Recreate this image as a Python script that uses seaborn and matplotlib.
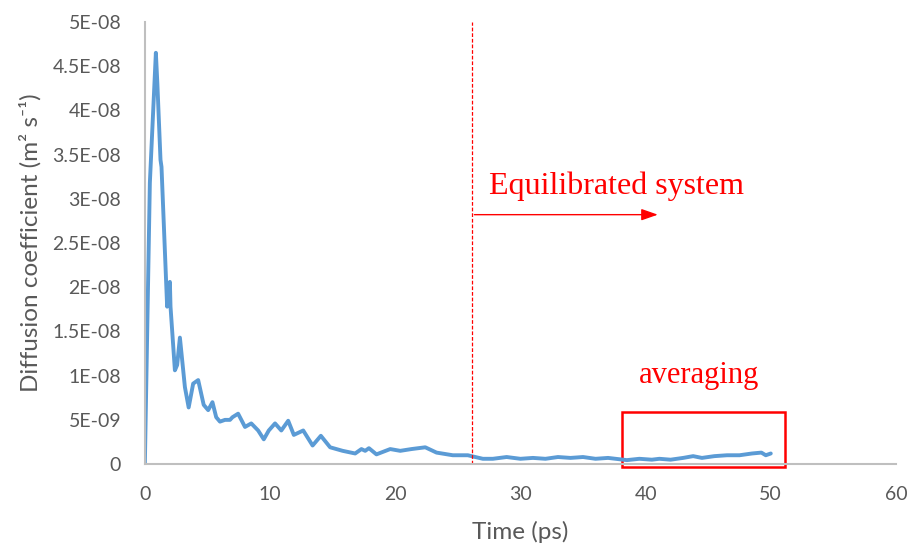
import matplotlib
matplotlib.use("Agg")
import matplotlib.pyplot as plt
from matplotlib.patches import Rectangle
import seaborn as sns
import pandas as pd

time_ps = [0, 0.4, 0.88, 1.0, 1.25, 1.33, 1.78, 2.0, 2.05, 2.4, 2.58, 2.8, 3.2, 3.5, 3.86,
           4.26, 4.7, 5.06, 5.4, 5.7, 6.0, 6.4, 6.8, 7.0, 7.45, 8.0, 8.5, 9.05, 9.5, 9.9,
           10.4, 10.9, 11.45, 11.9, 12.65, 13.4, 14.06, 14.8, 15.8, 16.8, 17.3, 17.6, 17.9,
           18.5, 19.6, 20.4, 21.3, 22.4, 23.3, 24.6, 25.8, 27.0, 27.8, 28.9, 30.0, 31, 32,
           33, 34, 35, 36, 37, 38.5, 39.5, 40.5, 41.1, 42, 43, 43.8, 44.5, 45.5, 46.5, 47.5,
           48.5, 49.25, 49.6, 50.0]
diff_e8 = [0, 3.18, 4.65, 4.3, 3.44, 3.36, 1.78, 2.06, 1.78, 1.06, 1.12, 1.43, 0.87, 0.64, 0.91,
           0.95, 0.67, 0.61, 0.70, 0.53, 0.48, 0.50, 0.50, 0.53, 0.57, 0.42, 0.46, 0.38, 0.28, 0.38,
           0.46, 0.38, 0.49, 0.33, 0.38, 0.21, 0.32, 0.19, 0.15, 0.12, 0.17, 0.15, 0.18,
           0.11, 0.17, 0.15, 0.17, 0.19, 0.13, 0.10, 0.10, 0.06, 0.06, 0.08, 0.06, 0.07, 0.06,
           0.08, 0.07, 0.08, 0.06, 0.07, 0.045, 0.06, 0.05, 0.06, 0.05, 0.07, 0.09, 0.07, 0.09, 0.10, 0.10,
           0.12, 0.13, 0.10, 0.12]
y_ticks = [0, 5e-9, 1e-8, 1.5e-8, 2e-8, 2.5e-8, 3e-8, 3.5e-8, 4e-8, 4.5e-8, 5e-8]
y_tick_labels = ["0", "5E-09", "1E-08", "1.5E-08", "2E-08", "2.5E-08", "3E-08",
                 "3.5E-08", "4E-08", "4.5E-08", "5E-08"]
x_ticks = [0, 10, 20, 30, 40, 50, 60]

df = pd.DataFrame({"t": time_ps, "D": [v * 1e-8 for v in diff_e8]})

sns.set_style("white")
plt.rcParams["font.family"] = ["Lato", "DejaVu Sans"]

fig = plt.figure(figsize=(9.11, 5.46), dpi=100)
ax = fig.add_axes([0.159, 0.150, 0.8245, 0.810])
sns.lineplot(data=df, x="t", y="D", ax=ax, color="#5B9BD5", linewidth=2.8)

ax.set_xlim(0, 60)
ax.set_ylim(0, 5e-8)
ax.set_xticks(x_ticks)
ax.set_xticklabels([str(x) for x in x_ticks])
ax.set_yticks(y_ticks)
ax.set_yticklabels(y_tick_labels)
ax.tick_params(axis="both", length=0, labelsize=14, colors="#595959")
ax.tick_params(axis="x", pad=16)
ax.tick_params(axis="y", pad=17)
for s in ["top", "right"]:
    ax.spines[s].set_visible(False)
for s in ["left", "bottom"]:
    ax.spines[s].set_color("#BFBFBF")
    ax.spines[s].set_linewidth(1.5)

ax.set_xlabel("Time (ps)", fontsize=17.5, color="#595959", labelpad=13)
ax.set_ylabel("Diffusion coefficient (m² s⁻¹)", fontsize=17.5, color="#595959", labelpad=8)

ax.axvline(26.1, color="red", linestyle=(0, (3, 1.5)), linewidth=0.9)
ax.annotate("", xy=(41.2, 2.82e-8), xytext=(26.1, 2.82e-8),
            arrowprops=dict(arrowstyle="-|>,head_length=1.0,head_width=0.35", color="red", lw=1.0))
ax.text(27.5, 3.14e-8, "Equilibrated system", color="red", fontsize=23,
        family="Liberation Serif", ha="left", va="center")
ax.text(44.3, 1.0e-8, "averaging", color="red", fontsize=22,
        family="Liberation Serif", ha="center", va="center")
ax.add_patch(Rectangle((38.1, -0.034e-8), 13.0, 0.624e-8, fill=False, edgecolor="red",
                       linewidth=1.8, clip_on=False))

fig.savefig("out.png", dpi=100)
